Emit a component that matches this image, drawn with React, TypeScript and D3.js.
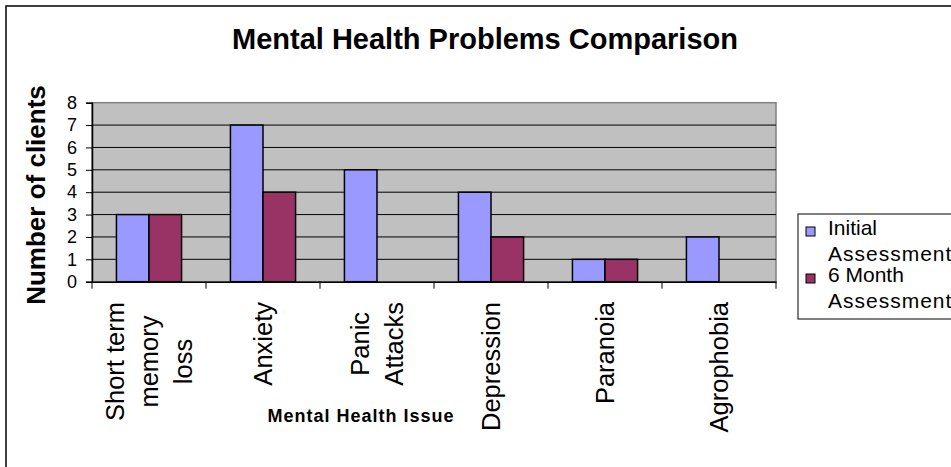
import React, { useEffect, useRef } from "react";
import * as d3 from "d3";

const categories = [
  ["Short term", "memory", "loss"],
  ["Anxiety"],
  ["Panic", "Attacks"],
  ["Depression"],
  ["Paranoia"],
  ["Agrophobia"],
];
const seriesNames = ["Initial Assessment", "6 Month Assessment"];
const initialValues = [3, 7, 5, 4, 1, 2];
const sixMonthValues = [3, 4, 0, 2, 1, 0];
const yTicks = [0, 1, 2, 3, 4, 5, 6, 7, 8];
const colors = ["#9999FF", "#993366"];

const W = 951;
const H = 467;
const FONT = "'Liberation Sans', Arial, sans-serif";

const App: React.FC = () => {
  const svgRef = useRef<SVGSVGElement>(null);

  useEffect(() => {
    if (!svgRef.current) return;
    const svg = d3.select(svgRef.current);
    svg.selectAll("*").remove();

    const plot = { left: 92, right: 776, top: 102.7, bottom: 281.7 };
    const keys = categories.map((c) => c.join(" "));
    const values = [initialValues, sixMonthValues];

    const x0 = d3.scaleBand<string>().domain(keys).range([plot.left, plot.right]);
    const barW = x0.bandwidth() / 3.5;
    const x1 = d3
      .scaleBand<number>()
      .domain([0, 1])
      .range([barW * 0.75, barW * 2.75]);
    const y = d3.scaleLinear().domain([0, 8]).range([plot.bottom, plot.top]);

    // outer frame
    svg
      .append("rect")
      .attr("x", 6)
      .attr("y", 6)
      .attr("width", W + 20)
      .attr("height", H + 20)
      .attr("fill", "white")
      .attr("stroke", "#000")
      .attr("stroke-width", 1.5);

    // title
    svg
      .append("text")
      .attr("x", 485)
      .attr("y", 49)
      .attr("text-anchor", "middle")
      .style("font-family", FONT)
      .style("font-weight", "bold")
      .style("font-size", "29px")
      .text("Mental Health Problems Comparison");

    // plot background
    svg
      .append("rect")
      .attr("x", plot.left)
      .attr("y", plot.top)
      .attr("width", plot.right - plot.left)
      .attr("height", plot.bottom - plot.top)
      .attr("fill", "#C0C0C0")
      .attr("stroke", "#808080")
      .attr("stroke-width", 1.5);

    // gridlines
    svg
      .append("g")
      .selectAll("line")
      .data(yTicks.filter((t) => t > 0 && t < 8))
      .join("line")
      .attr("x1", plot.left)
      .attr("x2", plot.right)
      .attr("y1", (d) => y(d))
      .attr("y2", (d) => y(d))
      .attr("stroke", "#000")
      .attr("stroke-width", 1);

    // bars
    values.forEach((vals, si) => {
      svg
        .append("g")
        .selectAll("rect")
        .data(vals.map((v, i) => ({ v, k: keys[i] })).filter((d) => d.v > 0))
        .join("rect")
        .attr("x", (d) => (x0(d.k) ?? 0) + (x1(si) ?? 0))
        .attr("y", (d) => y(d.v))
        .attr("width", x1.bandwidth())
        .attr("height", (d) => y(0) - y(d.v))
        .attr("fill", colors[si])
        .attr("stroke", "#000")
        .attr("stroke-width", 1.5);
    });

    // y axis
    const yAxis = svg
      .append("g")
      .attr("transform", `translate(${plot.left},0)`)
      .call(d3.axisLeft(y).tickValues(yTicks).tickSize(6).tickPadding(9).tickFormat(d3.format("d")));
    yAxis.select(".domain").attr("stroke", "#000").attr("stroke-width", 1.5);
    yAxis.selectAll(".tick line").attr("stroke", "#000");
    yAxis
      .selectAll("text")
      .style("font-family", FONT)
      .style("font-size", "18px")
      .attr("fill", "#000");

    // x axis
    const xAxis = svg
      .append("g")
      .attr("transform", `translate(0,${plot.bottom})`)
      .call(d3.axisBottom(x0).tickSize(0).tickFormat(() => ""));
    xAxis.select(".domain").attr("stroke", "#000").attr("stroke-width", 1.5);
    svg
      .append("g")
      .selectAll("line")
      .data(d3.range(keys.length + 1))
      .join("line")
      .attr("x1", (i) => plot.left + i * x0.step())
      .attr("x2", (i) => plot.left + i * x0.step())
      .attr("y1", plot.bottom)
      .attr("y2", plot.bottom + 7)
      .attr("stroke", "#000")
      .attr("stroke-width", 1);

    // category labels, rotated
    const labelTop = 302;
    const lineGap = 34;
    categories.forEach((lines, ci) => {
      const cx = (x0(keys[ci]) ?? 0) + x0.bandwidth() / 2;
      const g = svg.append("g");
      const texts = lines.map((ln, li) => {
        const bx = cx + 8.5 + (li - (lines.length - 1) / 2) * lineGap;
        return g
          .append("text")
          .attr("text-anchor", "middle")
          .attr("data-bx", bx)
          .style("font-family", FONT)
          .style("font-size", "25.5px")
          .text(ln);
      });
      const maxLen = d3.max(texts, (t) => (t.node() as SVGTextElement).getComputedTextLength()) ?? 0;
      texts.forEach((t) => {
        const bx = +t.attr("data-bx");
        const cy = labelTop + maxLen / 2;
        t.attr("transform", `translate(${bx},${cy}) rotate(-90)`);
      });
    });

    // axis titles
    svg
      .append("text")
      .attr("transform", `translate(45,195) rotate(-90)`)
      .attr("text-anchor", "middle")
      .style("font-family", FONT)
      .style("font-weight", "bold")
      .style("font-size", "26px")
      .text("Number of clients");

    svg
      .append("text")
      .attr("x", 361)
      .attr("y", 422)
      .attr("text-anchor", "middle")
      .style("font-family", FONT)
      .style("font-weight", "bold")
      .style("font-size", "18px")
      .style("letter-spacing", "1px")
      .text("Mental Health Issue");

    // legend
    const legend = svg.append("g");
    legend
      .append("rect")
      .attr("x", 798)
      .attr("y", 214)
      .attr("width", 200)
      .attr("height", 105)
      .attr("fill", "white")
      .attr("stroke", "#000")
      .attr("stroke-width", 1);
    seriesNames.forEach((name, i) => {
      const words = name.split(" ");
      const first = words.slice(0, -1).join(" ");
      const second = words[words.length - 1];
      const base = 235 + i * 47;
      legend
        .append("rect")
        .attr("x", 806)
        .attr("y", base - 8)
        .attr("width", 9)
        .attr("height", 9)
        .attr("fill", colors[i])
        .attr("stroke", "#000")
        .attr("stroke-width", 1);
      legend
        .append("text")
        .attr("x", 828)
        .attr("y", base)
        .style("font-family", FONT)
        .style("font-size", "21px")
        .text(first);
      legend
        .append("text")
        .attr("x", 828)
        .attr("y", base + 26)
        .style("font-family", FONT)
        .style("font-size", "21px")
        .style("letter-spacing", "1px")
        .text(second);
    });
  }, []);

  return (
    <svg
      ref={svgRef}
      width={W}
      height={H}
      style={{ position: "absolute", left: 0, top: 0, background: "white" }}
    />
  );
};

export default App;
